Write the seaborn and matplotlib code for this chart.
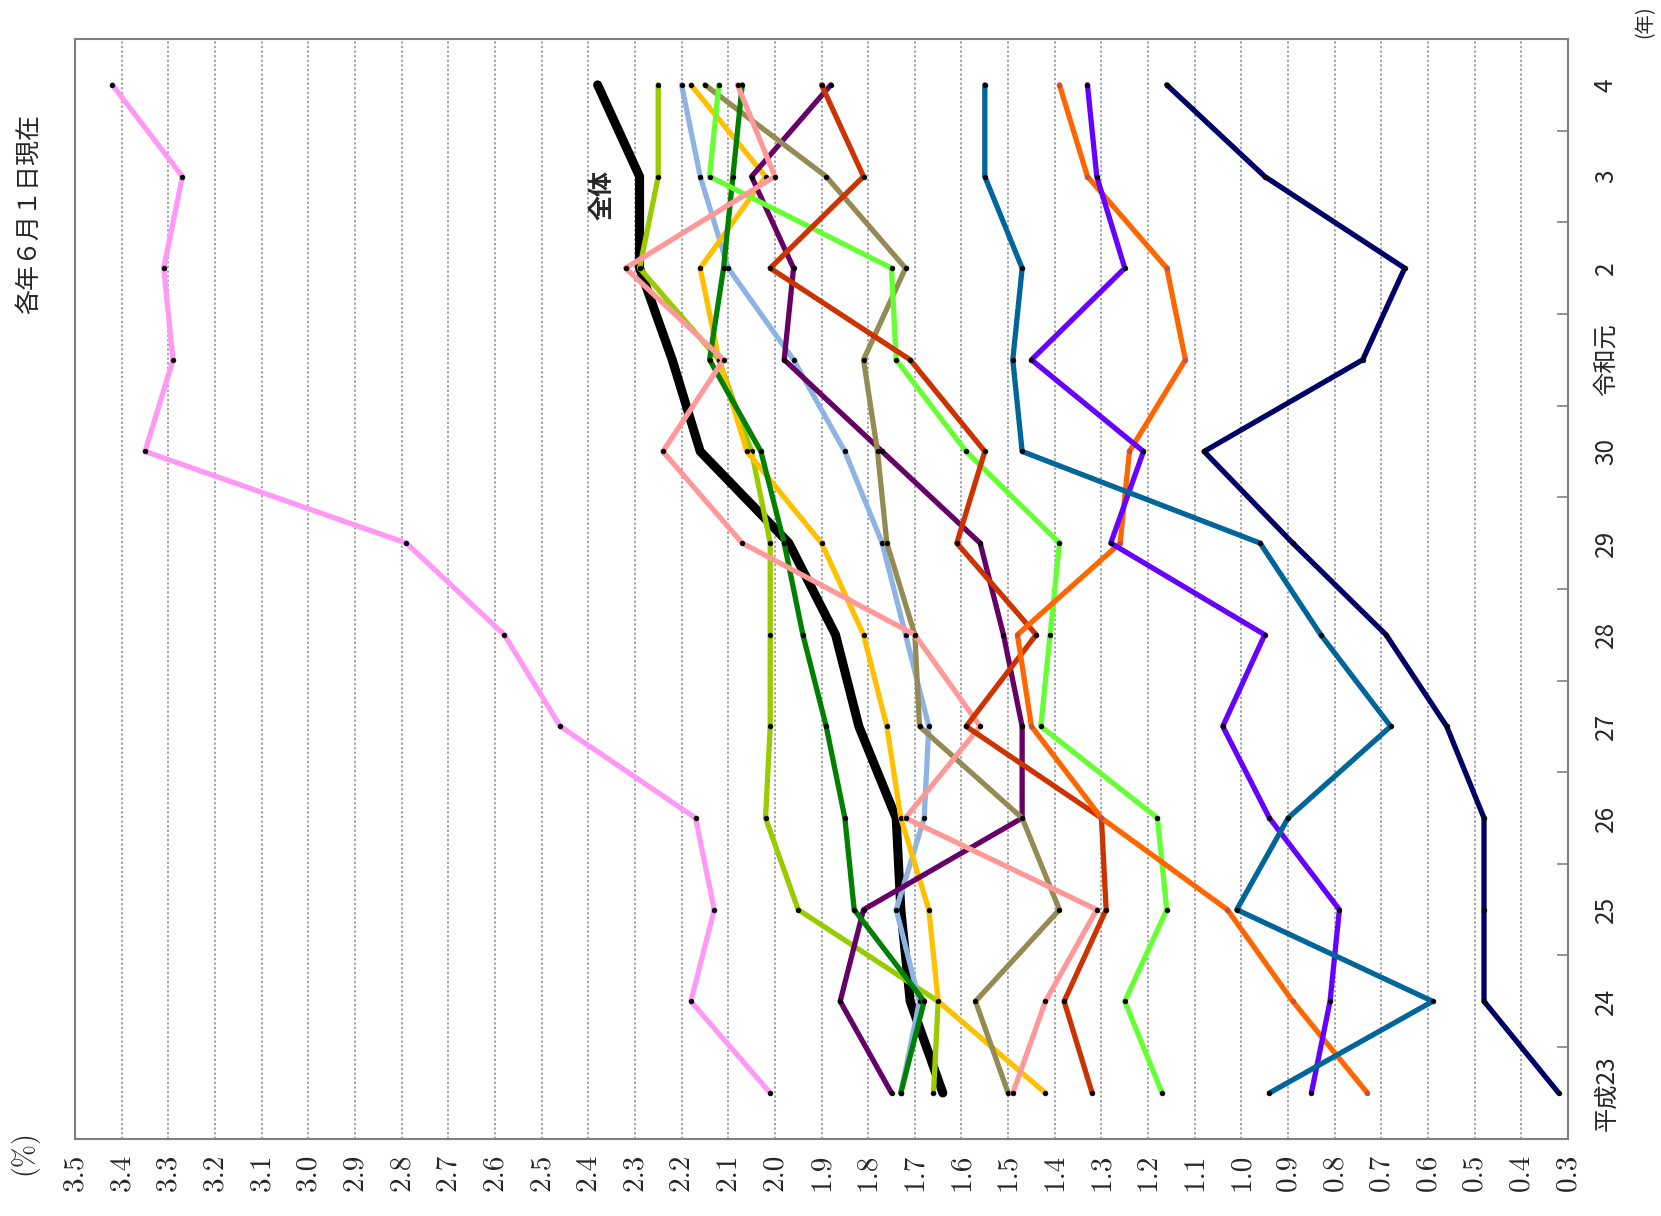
import numpy as np
import pandas as pd
import matplotlib
matplotlib.use("Agg")
import matplotlib.pyplot as plt
import seaborn as sns

# years run bottom -> top on the right side (chart is drawn turned on its side)
years = ["平成23", "24", "25", "26", "27", "28", "29", "30", "令和元", "2", "3", "4"]

# rates (%) per year, H23 .. R4
total = [1.64, 1.71, 1.73, 1.74, 1.82, 1.87, 1.97, 2.16, 2.22, 2.29, 2.29, 2.38]
pink = [2.01, 2.18, 2.13, 2.17, 2.46, 2.58, 2.79, 3.35, 3.29, 3.31, 3.27, 3.42]
yellowgreen = [1.66, 1.65, 1.95, 2.02, 2.01, 2.01, 2.01, 2.05, 2.12, 2.29, 2.25, 2.25]
lightblue = [1.73, 1.69, 1.74, 1.68, 1.67, 1.72, 1.77, 1.85, 1.96, 2.10, 2.16, 2.20]
yellow = [1.42, 1.65, 1.67, 1.73, 1.76, 1.81, 1.90, 2.06, 2.12, 2.16, 2.02, 2.18]
green = [1.73, 1.68, 1.83, 1.85, 1.89, 1.94, 1.98, 2.03, 2.14, 2.11, 2.09, 2.07]
brightgreen = [1.17, 1.25, 1.16, 1.18, 1.43, 1.41, 1.39, 1.59, 1.74, 1.75, 2.14, 2.12]
salmon = [1.49, 1.42, 1.31, 1.72, 1.56, 1.70, 2.07, 2.24, 2.11, 2.32, 2.00, 2.08]
khaki = [1.50, 1.57, 1.39, 1.47, 1.69, 1.70, 1.76, 1.78, 1.81, 1.72, 1.89, 2.15]
purple = [1.75, 1.86, 1.81, 1.47, 1.47, 1.51, 1.56, 1.77, 1.98, 1.96, 2.05, 1.88]
red = [1.32, 1.38, 1.29, 1.30, 1.59, 1.44, 1.61, 1.55, 1.71, 2.01, 1.81, 1.90]
orange = [0.73, 0.89, 1.03, 1.30, 1.45, 1.48, 1.26, 1.24, 1.12, 1.16, 1.33, 1.39]
violet = [0.85, 0.81, 0.79, 0.94, 1.04, 0.95, 1.28, 1.21, 1.45, 1.25, 1.31, 1.33]
teal = [0.94, 0.59, 1.01, 0.90, 0.68, 0.83, 0.96, 1.47, 1.49, 1.47, 1.55, 1.55]
navy = [0.32, 0.48, 0.48, 0.48, 0.56, 0.69, 0.89, 1.08, 0.74, 0.65, 0.95, 1.16]

series = [
    (pink, "#FF99F5"),
    (yellowgreen, "#99CC00"),
    (lightblue, "#8DB4E2"),
    (yellow, "#FFC000"),
    (purple, "#660066"),
    (khaki, "#948A54"),
    (green, "#008000"),
    (brightgreen, "#66FF33"),
    (salmon, "#FF9999"),
    (red, "#CC3300"),
    (orange, "#FF6600"),
    (violet, "#6600FF"),
    (teal, "#006699"),
    (navy, "#000066"),
]

sns.set_style("white")
plt.rcParams["font.family"] = ["Noto Sans CJK JP", "DejaVu Sans"]

fig = plt.figure(figsize=(16.61, 12.16), dpi=100)
ax = fig.add_axes([0.0452, 0.0635, 0.8988, 0.9044])

pos = np.arange(len(years))

# total line first (sits under the others)
df = pd.DataFrame({"rate": total, "pos": pos})
sns.lineplot(data=df, x="rate", y="pos", orient="y", sort=False, color="black",
             lw=6.5, solid_capstyle="round", ax=ax, zorder=2)

for vals, col in series:
    df = pd.DataFrame({"rate": vals, "pos": pos})
    mk = "#C0504D" if col == "#FF6600" else "black"
    sns.lineplot(data=df, x="rate", y="pos", orient="y", sort=False, color=col,
                 lw=3.8, solid_capstyle="round", marker="o", ms=3.4,
                 mfc=mk, mec=mk, mew=0.5, ax=ax, zorder=3)

ax.set_xlim(3.5, 0.3)
ax.set_ylim(-0.5, 11.5)

ticks = np.round(np.arange(0.3, 3.51, 0.1), 1)
ax.set_xticks(ticks)
ax.set_xticklabels([f"{t:.1f}" for t in ticks], rotation=90, fontfamily="cmr10",
                   fontsize=21, va="top", ha="center")
ax.tick_params(axis="x", length=0, pad=11)
ax.xaxis.grid(True, ls=(0, (1.5, 1.5)), color="#8c8c8c", lw=1.1)
ax.yaxis.grid(False)

ax.yaxis.tick_right()
ax.set_yticks(pos)
ax.set_yticklabels(years, rotation=90, va="center", ha="left", fontsize=17.5)
ax.tick_params(axis="y", which="major", length=0, pad=18)
ax.set_yticks(np.arange(0.5, 11, 1), minor=True)
ax.tick_params(axis="y", which="minor", direction="in", length=8, width=1.3,
               color="#8c8c8c", right=True, left=False)

ax.set_xlabel("")
ax.set_ylabel("")
for sp in ax.spines.values():
    sp.set_color("#7f7f7f")
    sp.set_linewidth(1.5)

ax.text(2.37, 9.8, "全体", rotation=90, fontsize=18, fontweight="bold",
        ha="center", va="center", zorder=5)

fig.text(0.014, 0.052, "(%)", rotation=90, fontsize=20, ha="center", va="center",
         fontfamily="cmr10")
fig.text(0.018, 0.824, "各年６月１日現在", rotation=90, fontsize=18,
         ha="center", va="center")
fig.text(0.990, 0.982, "(年)", rotation=90, fontsize=14, ha="center", va="center")

fig.savefig("out.png", dpi=100)
